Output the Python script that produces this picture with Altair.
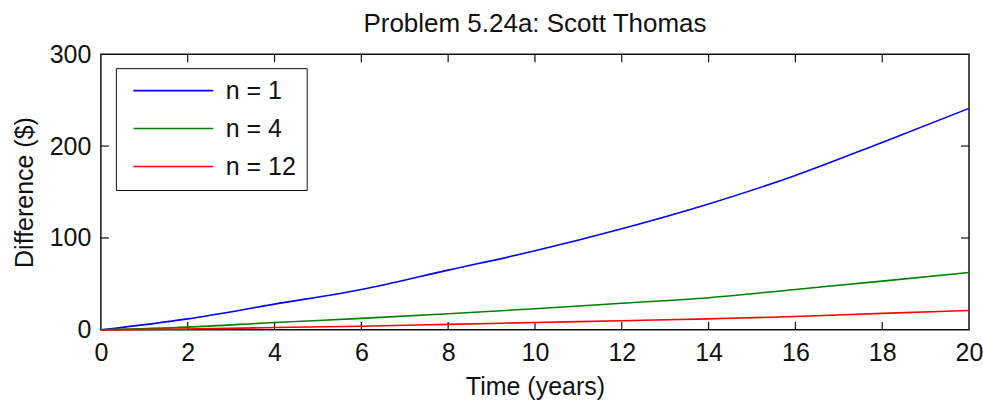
import altair as alt
import pandas as pd

# Values
years = [0, 2, 4, 6, 8, 10, 12, 14, 16, 18, 20]
diff_n1 = [0, 12, 28, 44, 65, 86, 110, 137, 168, 204, 241]
diff_n4 = [0, 3, 8, 12.5, 17.5, 23, 29, 35, 44, 53, 62.5]
diff_n12 = [0, 1, 2.5, 4, 6, 8, 10, 12, 14.5, 18, 21]
series_names = ["n = 1", "n = 4", "n = 12"]
series_colors = ["#0000ff", "#008000", "#ff0000"]
x_ticks = [0, 2, 4, 6, 8, 10, 12, 14, 16, 18, 20]
y_ticks = [0, 100, 200, 300]
x_inner_ticks = [2, 4, 6, 8, 10, 12, 14, 16, 18]
y_inner_ticks = [100, 200]

rows = []
for name, vals in zip(series_names, [diff_n1, diff_n4, diff_n12]):
    for t, v in zip(years, vals):
        rows.append({"t": t, "d": v, "series": name})
df = pd.DataFrame(rows)

FONT = "Liberation Sans"
FS = 25
W, H = 869, 276
INK = "#111"

xscale = alt.Scale(domain=[0, 20], nice=False)
yscale = alt.Scale(domain=[0, 300], nice=False)

axis_style = dict(grid=False, domain=False, ticks=False, format="d",
                  labelFlush=False, labelOverlap=False,
                  labelFont=FONT, labelFontSize=FS, labelColor=INK,
                  titleFont=FONT, titleFontSize=FS, titleFontWeight="normal",
                  titleColor=INK)

lines = alt.Chart(df).mark_line(strokeWidth=1.6, interpolate="monotone").encode(
    x=alt.X("t:Q", scale=xscale, title="Time (years)",
            axis=alt.Axis(values=x_ticks, labelPadding=11, titlePadding=9,
                          **axis_style)),
    y=alt.Y("d:Q", scale=yscale, title="Difference ($)",
            axis=alt.Axis(values=y_ticks, labelPadding=10, titlePadding=12,
                          **axis_style)),
    color=alt.Color("series:N",
                    scale=alt.Scale(domain=series_names, range=series_colors),
                    sort=series_names,
                    title=None,
                    legend=alt.Legend(orient="none", legendX=15, legendY=14,
                                      symbolType="M-4,0H4", symbolSize=400,
                                      symbolStrokeWidth=1.6,
                                      symbolOffset=35, labelOffset=40,
                                      labelFont=FONT, labelFontSize=FS,
                                      labelColor=INK,
                                      padding=10, rowPadding=12,
                                      strokeColor=INK, fillColor="white")),
)

xt = pd.DataFrame({"t": x_inner_ticks})
yt = pd.DataFrame({"v": y_inner_ticks})

top_ticks = alt.Chart(xt).mark_rule(color=INK, strokeWidth=1.2).encode(
    x=alt.X("t:Q", scale=xscale), y=alt.value(0), y2=alt.value(8))
bot_ticks = alt.Chart(xt).mark_rule(color=INK, strokeWidth=1.2).encode(
    x=alt.X("t:Q", scale=xscale), y=alt.value(H - 8), y2=alt.value(H))
left_ticks = alt.Chart(yt).mark_rule(color=INK, strokeWidth=1.2).encode(
    y=alt.Y("v:Q", scale=yscale), x=alt.value(0), x2=alt.value(8))
right_ticks = alt.Chart(yt).mark_rule(color=INK, strokeWidth=1.2).encode(
    y=alt.Y("v:Q", scale=yscale), x=alt.value(W - 8), x2=alt.value(W))

chart = alt.layer(top_ticks, bot_ticks, left_ticks, right_ticks, lines).properties(
    width=W, height=H,
    title=alt.TitleParams("Problem 5.24a: Scott Thomas", font=FONT, fontSize=26,
                          fontWeight="normal", color=INK, anchor="middle",
                          offset=5),
    autosize=alt.AutoSizeParams(type="none"),
    padding={"left": 101, "top": 54, "right": 14, "bottom": 74},
    background="white",
).configure_view(
    stroke=INK, strokeWidth=1.5
)

chart.save("out.html", embed_options={"renderer": "svg", "actions": False})
